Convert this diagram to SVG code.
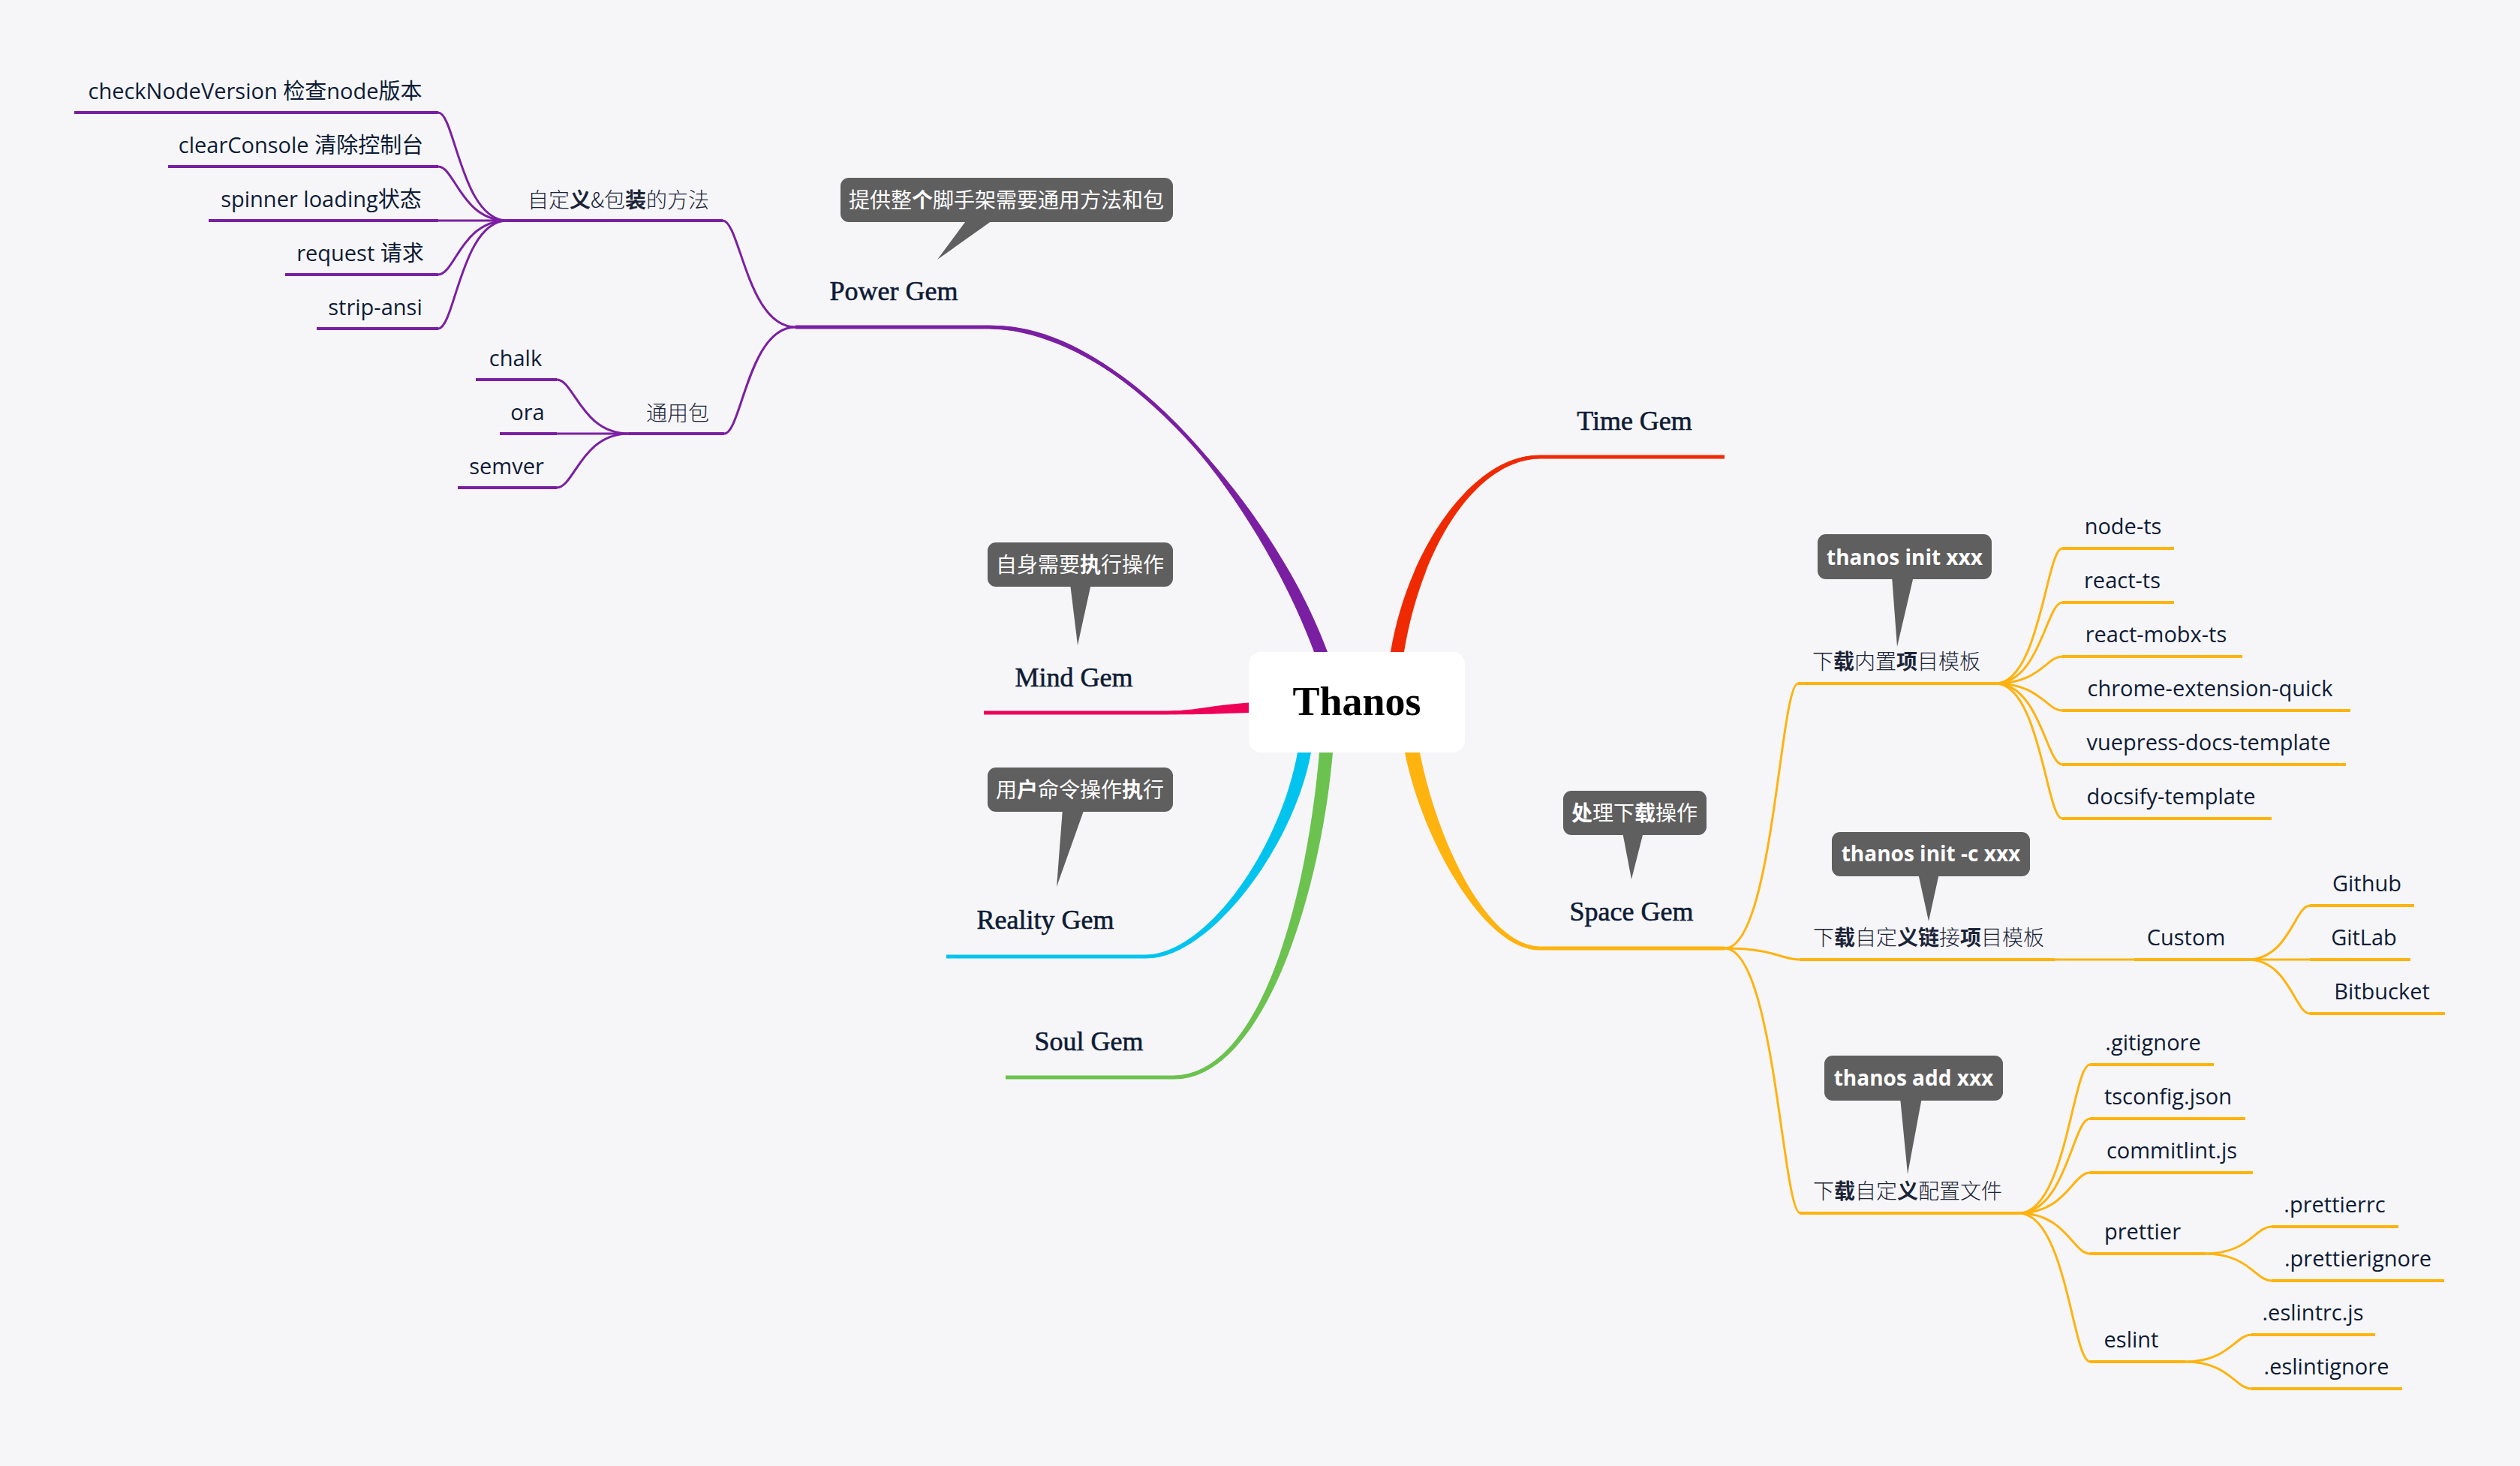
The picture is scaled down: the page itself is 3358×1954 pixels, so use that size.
<svg xmlns="http://www.w3.org/2000/svg" width="3358" height="1954" viewBox="0 0 3358 1954">
<style>
.ln{fill:none;stroke-linecap:butt}
.u5{stroke-width:5}
.u4{stroke-width:4}
.c3{stroke-width:3}
.pu{stroke:#7b1fa2}
.rd{stroke:#f02a00}
.pk{stroke:#ef0057}
.cy{stroke:#00c4ee}
.gr{stroke:#6cc24f}
.am{stroke:#ffb30f}
.root{font-family:"Liberation Serif",serif;font-weight:bold;font-size:54px;fill:#000;text-anchor:middle}
.t1{font-family:"Liberation Serif","Noto Sans CJK SC",serif;font-size:36px;fill:#0e1b34;text-anchor:middle;stroke:#0e1b34;stroke-width:0.6}
.t2{font-family:"Noto Sans CJK SC",sans-serif;font-size:28px;font-weight:300;fill:#1b2436;text-anchor:middle}
.t3{font-family:"Open Sans","Noto Sans CJK SC",sans-serif;font-size:29px;fill:#0e1b34;text-anchor:middle}
.cb{fill:#5f5f5f}
.ct{font-family:"Noto Sans CJK SC",sans-serif;font-size:28px;fill:#fff;text-anchor:middle}
.cc{font-family:"Open Sans",sans-serif;font-weight:bold;font-size:28px;fill:#fff;text-anchor:middle}
.b{font-weight:bold}
</style>
<rect x="0" y="0" width="3358" height="1954" fill="#f6f6f9"/>

<g id="connectors">
  <!-- main tapered branches: centre stroke + tapered fill -->
  <path class="ln u5 pu" d="M1760,880 L1760,869 C1690,680 1500,436 1318,436"/>
  <path fill="#7b1fa2" d="M1751,885 L1751,869 C1681,680 1500,429 1318,434 L1318,438 C1500,443 1699,680 1769,869 L1769,885 Z"/>
  <path class="ln u5 rd" d="M1862,880 L1862,869 C1885,730 1965,609 2052,609"/>
  <path fill="#f02a00" d="M1853,885 L1853,869 C1876,730 1965,604 2052,607 L2052,611 C1965,614 1894,730 1871,869 L1871,885 Z"/>
  <path class="ln u5 am" d="M1882,990 L1882,1003 C1905,1120 1980,1264 2052,1264"/>
  <path fill="#ffb30f" d="M1872,990 L1872,1003 C1895,1120 1980,1269 2052,1266 L2052,1262 C1980,1259 1915,1120 1892,1003 L1892,990 Z"/>
  <path class="ln u5 cy" d="M1738,990 L1738,1003 C1715,1130 1610,1275 1527,1275"/>
  <path fill="#00c4ee" d="M1729,990 L1729,1003 C1706,1130 1610,1270 1527,1273 L1527,1277 C1610,1280 1724,1130 1747,1003 L1747,990 Z"/>
  <path class="ln u5 gr" d="M1767,990 L1767,1003 C1750,1200 1680,1436 1564,1436"/>
  <path fill="#6cc24f" d="M1758,990 L1758,1003 C1741,1200 1680,1431 1564,1434 L1564,1438 C1680,1441 1759,1200 1776,1003 L1776,990 Z"/>
  <path class="ln u5 pk" d="M1700,942 C1620,944 1600,950 1554,950"/>
  <path fill="#ef0057" d="M1700,935 C1620,937 1600,947 1554,948 L1554,952 C1600,953 1620,951 1700,949 Z"/>

  <!-- Power Gem subtree -->
  <g class="ln c3 pu">
    <path d="M1060,436 C996,436 986,294 963,294"/>
    <path d="M1060,436 C997,436 988,578 965,578"/>
    <path d="M676,294 C615,294 606,150 584,150"/>
    <path d="M676,294 C615,294 606,222 584,222"/>
    <path d="M676,294 L584,294"/>
    <path d="M676,294 C615,294 606,366 584,366"/>
    <path d="M676,294 C615,294 606,438 584,438"/>
    <path d="M838,578 C775,578 765,506 742,506"/>
    <path d="M838,578 L742,578"/>
    <path d="M838,578 C775,578 765,650 742,650"/>
  </g>

  <!-- Space Gem subtree -->
  <g class="ln c3 am">
    <path d="M2298,1264 C2363,1264 2372,911 2396,911"/>
    <path d="M2298,1264 C2364,1264 2374,1279 2398,1279"/>
    <path d="M2298,1264 C2365,1264 2375,1617 2399,1617"/>
    <path d="M2659,911 C2718,911 2727,731 2748,731"/>
    <path d="M2659,911 C2718,911 2727,803 2748,803"/>
    <path d="M2659,911 C2718,911 2727,875 2748,875"/>
    <path d="M2659,911 C2718,911 2727,947 2748,947"/>
    <path d="M2659,911 C2718,911 2727,1019 2748,1019"/>
    <path d="M2659,911 C2718,911 2727,1091 2748,1091"/>
    <path d="M2738,1279 L2844,1279"/>
    <path d="M2995,1279 C3050,1279 3058,1207 3078,1207"/>
    <path d="M2995,1279 L3078,1279"/>
    <path d="M2995,1279 C3050,1279 3058,1351 3078,1351"/>
    <path d="M2690,1617 C2753,1617 2762,1419 2785,1419"/>
    <path d="M2690,1617 C2753,1617 2762,1491 2785,1491"/>
    <path d="M2690,1617 C2753,1617 2762,1563 2785,1563"/>
    <path d="M2690,1617 C2753,1617 2762,1671 2785,1671"/>
    <path d="M2690,1617 C2753,1617 2762,1815 2785,1815"/>
    <path d="M2938,1671 C2997,1671 3005,1635 3027,1635"/>
    <path d="M2938,1671 C2997,1671 3005,1707 3027,1707"/>
    <path d="M2912,1815 C2970,1815 2979,1779 3000,1779"/>
    <path d="M2912,1815 C2970,1815 2979,1851 3000,1851"/>
  </g>
</g>

<!-- root -->
<g id="thanos">
  <rect x="1664" y="869" width="288" height="134" rx="16" fill="#ffffff"/>
  <text class="root" x="1808" y="953">Thanos</text>
</g>

<!-- level 1 -->
<g id="power-gem">
  <line class="ln u5 pu" x1="1060" y1="436" x2="1318" y2="436"/>
  <text class="t1" x="1191" y="400">Power Gem</text>
</g>
<g id="power-gem-note">
  <rect class="cb" x="1120" y="237" width="443" height="59" rx="11"/>
  <polygon class="cb" points="1289,292 1325,292 1249,346"/>
  <text class="ct" x="1341" y="277">提供整<tspan class="b">个</tspan>脚手架需要通用方法和包</text>
</g>
<g id="time-gem">
  <line class="ln u5 rd" x1="2052" y1="609" x2="2298" y2="609"/>
  <text class="t1" x="2178" y="573">Time Gem</text>
</g>
<g id="mind-gem">
  <line class="ln u5 pk" x1="1311" y1="950" x2="1554" y2="950"/>
  <text class="t1" x="1431" y="915">Mind Gem</text>
</g>
<g id="mind-gem-note">
  <rect class="cb" x="1316" y="723" width="247" height="59" rx="11"/>
  <polygon class="cb" points="1426,778 1454,778 1436,860"/>
  <text class="ct" x="1439" y="763">自身需要<tspan class="b">执</tspan>行操作</text>
</g>
<g id="reality-gem">
  <line class="ln u5 cy" x1="1261" y1="1275" x2="1527" y2="1275"/>
  <text class="t1" x="1393" y="1238">Reality Gem</text>
</g>
<g id="reality-gem-note">
  <rect class="cb" x="1316" y="1023" width="247" height="59" rx="11"/>
  <polygon class="cb" points="1416,1078 1445,1078 1408,1182"/>
  <text class="ct" x="1439" y="1063">用<tspan class="b">户</tspan>命令操作<tspan class="b">执</tspan>行</text>
</g>
<g id="soul-gem">
  <line class="ln u5 gr" x1="1340" y1="1436" x2="1564" y2="1436"/>
  <text class="t1" x="1451" y="1400">Soul Gem</text>
</g>
<g id="space-gem">
  <line class="ln u5 am" x1="2052" y1="1264" x2="2298" y2="1264"/>
  <text class="t1" x="2174" y="1227">Space Gem</text>
</g>
<g id="space-gem-note">
  <rect class="cb" x="2083" y="1054" width="191" height="59" rx="11"/>
  <polygon class="cb" points="2162,1109 2190,1109 2174,1172"/>
  <text class="ct" x="2178" y="1094"><tspan class="b">处</tspan>理下<tspan class="b">载</tspan>操作</text>
</g>

<!-- Power Gem children -->
<g id="custom-methods">
  <line class="ln u4 pu" x1="676" y1="294" x2="963" y2="294"/>
  <text class="t2" x="824" y="277">自定<tspan class="b">义</tspan>&amp;包<tspan class="b">装</tspan>的方法</text>
</g>
<g id="check-node-version">
  <line class="ln u4 pu" x1="99" y1="150" x2="584" y2="150"/>
  <text class="t3" x="340" y="132">checkNodeVersion 检查node版本</text>
</g>
<g id="clear-console">
  <line class="ln u4 pu" x1="224" y1="222" x2="584" y2="222"/>
  <text class="t3" x="401" y="204">clearConsole 清除控制台</text>
</g>
<g id="spinner">
  <line class="ln u4 pu" x1="278" y1="294" x2="584" y2="294"/>
  <text class="t3" x="428" y="276">spinner loading状态</text>
</g>
<g id="request">
  <line class="ln u4 pu" x1="380" y1="366" x2="584" y2="366"/>
  <text class="t3" x="480" y="348">request 请求</text>
</g>
<g id="strip-ansi">
  <line class="ln u4 pu" x1="422" y1="438" x2="584" y2="438"/>
  <text class="t3" x="500" y="420">strip-ansi</text>
</g>
<g id="common-packages">
  <line class="ln u4 pu" x1="838" y1="578" x2="965" y2="578"/>
  <text class="t2" x="903" y="561">通用包</text>
</g>
<g id="chalk">
  <line class="ln u4 pu" x1="634" y1="506" x2="742" y2="506"/>
  <text class="t3" x="687" y="488">chalk</text>
</g>
<g id="ora">
  <line class="ln u4 pu" x1="666" y1="578" x2="742" y2="578"/>
  <text class="t3" x="703" y="560">ora</text>
</g>
<g id="semver">
  <line class="ln u4 pu" x1="610" y1="650" x2="742" y2="650"/>
  <text class="t3" x="675" y="632">semver</text>
</g>

<!-- Space Gem children -->
<g id="builtin-templates">
  <line class="ln u4 am" x1="2396" y1="911" x2="2659" y2="911"/>
  <text class="t2" x="2527" y="892">下<tspan class="b">载</tspan>内置<tspan class="b">项</tspan>目模板</text>
</g>
<g id="builtin-templates-note">
  <rect class="cb" x="2422" y="712" width="232" height="60" rx="11"/>
  <polygon class="cb" points="2521,768 2550,768 2528,862"/>
  <text class="cc" x="2538" y="753">thanos init xxx</text>
</g>
<g id="node-ts">
  <line class="ln u4 am" x1="2748" y1="731" x2="2897" y2="731"/>
  <text class="t3" x="2829" y="712">node-ts</text>
</g>
<g id="react-ts">
  <line class="ln u4 am" x1="2748" y1="803" x2="2897" y2="803"/>
  <text class="t3" x="2828" y="784">react-ts</text>
</g>
<g id="react-mobx-ts">
  <line class="ln u4 am" x1="2748" y1="875" x2="2988" y2="875"/>
  <text class="t3" x="2873" y="856">react-mobx-ts</text>
</g>
<g id="chrome-extension-quick">
  <line class="ln u4 am" x1="2748" y1="947" x2="3132" y2="947"/>
  <text class="t3" x="2945" y="928">chrome-extension-quick</text>
</g>
<g id="vuepress-docs-template">
  <line class="ln u4 am" x1="2748" y1="1019" x2="3126" y2="1019"/>
  <text class="t3" x="2943" y="1000">vuepress-docs-template</text>
</g>
<g id="docsify-template">
  <line class="ln u4 am" x1="2748" y1="1091" x2="3027" y2="1091"/>
  <text class="t3" x="2893" y="1072">docsify-template</text>
</g>

<g id="custom-link-templates">
  <line class="ln u4 am" x1="2398" y1="1279" x2="2738" y2="1279"/>
  <text class="t2" x="2570" y="1260">下<tspan class="b">载</tspan>自定<tspan class="b">义链</tspan>接<tspan class="b">项</tspan>目模板</text>
</g>
<g id="custom-link-templates-note">
  <rect class="cb" x="2441" y="1109" width="264" height="59" rx="11"/>
  <polygon class="cb" points="2556,1164 2584,1164 2570,1228"/>
  <text class="cc" x="2573" y="1148">thanos init -c xxx</text>
</g>
<g id="custom">
  <line class="ln u4 am" x1="2844" y1="1279" x2="2995" y2="1279"/>
  <text class="t3" x="2913" y="1260">Custom</text>
</g>
<g id="github">
  <line class="ln u4 am" x1="3078" y1="1207" x2="3217" y2="1207"/>
  <text class="t3" x="3154" y="1188">Github</text>
</g>
<g id="gitlab">
  <line class="ln u4 am" x1="3078" y1="1279" x2="3212" y2="1279"/>
  <text class="t3" x="3150" y="1260">GitLab</text>
</g>
<g id="bitbucket">
  <line class="ln u4 am" x1="3078" y1="1351" x2="3258" y2="1351"/>
  <text class="t3" x="3174" y="1332">Bitbucket</text>
</g>

<g id="custom-config-files">
  <line class="ln u4 am" x1="2399" y1="1617" x2="2690" y2="1617"/>
  <text class="t2" x="2542" y="1598">下<tspan class="b">载</tspan>自定<tspan class="b">义</tspan>配置文件</text>
</g>
<g id="custom-config-files-note">
  <rect class="cb" x="2431" y="1407" width="238" height="60" rx="11"/>
  <polygon class="cb" points="2532,1463 2561,1463 2542,1565"/>
  <text class="cc" x="2550" y="1447">thanos add xxx</text>
</g>
<g id="gitignore">
  <line class="ln u4 am" x1="2785" y1="1419" x2="2950" y2="1419"/>
  <text class="t3" x="2869" y="1400">.gitignore</text>
</g>
<g id="tsconfig">
  <line class="ln u4 am" x1="2785" y1="1491" x2="2992" y2="1491"/>
  <text class="t3" x="2889" y="1472">tsconfig.json</text>
</g>
<g id="commitlint">
  <line class="ln u4 am" x1="2785" y1="1563" x2="3002" y2="1563"/>
  <text class="t3" x="2894" y="1544">commitlint.js</text>
</g>
<g id="prettier">
  <line class="ln u4 am" x1="2785" y1="1671" x2="2938" y2="1671"/>
  <text class="t3" x="2855" y="1652">prettier</text>
</g>
<g id="prettierrc">
  <line class="ln u4 am" x1="3027" y1="1635" x2="3196" y2="1635"/>
  <text class="t3" x="3111" y="1616">.prettierrc</text>
</g>
<g id="prettierignore">
  <line class="ln u4 am" x1="3027" y1="1707" x2="3257" y2="1707"/>
  <text class="t3" x="3142" y="1688">.prettierignore</text>
</g>
<g id="eslint">
  <line class="ln u4 am" x1="2785" y1="1815" x2="2912" y2="1815"/>
  <text class="t3" x="2840" y="1796">eslint</text>
</g>
<g id="eslintrc">
  <line class="ln u4 am" x1="3000" y1="1779" x2="3165" y2="1779"/>
  <text class="t3" x="3082" y="1760">.eslintrc.js</text>
</g>
<g id="eslintignore">
  <line class="ln u4 am" x1="3000" y1="1851" x2="3201" y2="1851"/>
  <text class="t3" x="3100" y="1832">.eslintignore</text>
</g>
</svg>
